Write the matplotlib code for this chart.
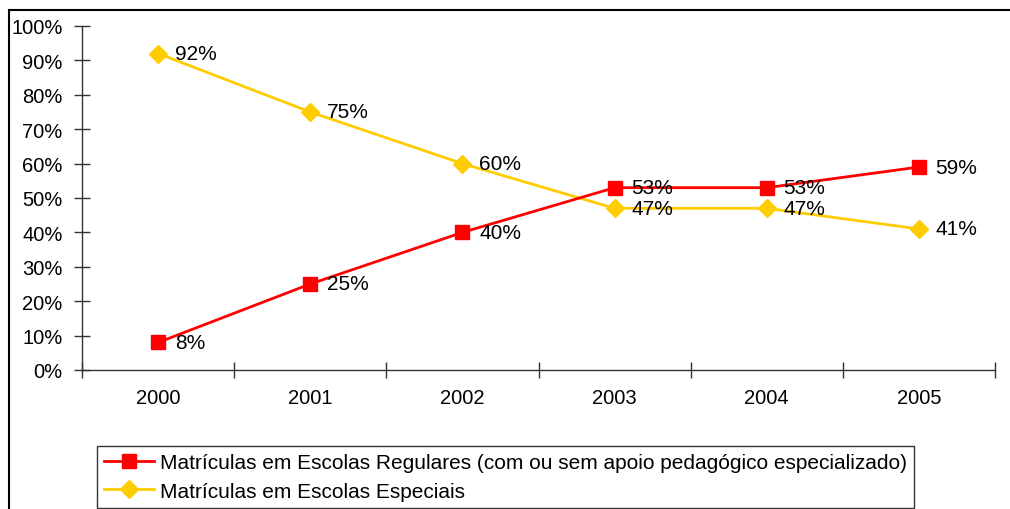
import matplotlib
matplotlib.use("Agg")
import matplotlib.pyplot as plt
from matplotlib.lines import Line2D

years = ["2000", "2001", "2002", "2003", "2004", "2005"]
regulares = [8, 25, 40, 53, 53, 59]
especiais = [92, 75, 60, 47, 47, 41]
yticks = [0, 10, 20, 30, 40, 50, 60, 70, 80, 90, 100]
label_reg = "Matrículas em Escolas Regulares (com ou sem apoio pedagógico especializado)"
label_esp = "Matrículas em Escolas Especiais"

plt.rcParams['font.family'] = ['Liberation Sans', 'DejaVu Sans']

W, H = 1010, 510
fig = plt.figure(figsize=(W/100, H/100), dpi=100)
ax = fig.add_axes([82/W, 1-371/H, (995-82)/W, (371-27)/H])

x = list(range(len(years)))
red = '#FF0000'
yel = '#FFCC00'
ax.plot(x, regulares, color=red, lw=2, marker='s', ms=10.5, label=label_reg, zorder=3)
ax.plot(x, especiais, color=yel, lw=2, marker='D', ms=9.5, label=label_esp, zorder=2)

for xi, v in zip(x, regulares):
    ax.annotate(f"{v}%", (xi, v), xytext=(12, 0), textcoords='offset points',
                va='center', ha='left', fontsize=15, color='black', zorder=5)
for xi, v in zip(x, especiais):
    ax.annotate(f"{v}%", (xi, v), xytext=(12, 0), textcoords='offset points',
                va='center', ha='left', fontsize=15, color='black', zorder=5)

ax.set_xlim(-0.5, len(years)-0.5)
ax.set_ylim(0, 100)
ax.set_yticks(yticks)
ax.set_yticklabels([f"{t}%" for t in yticks], fontsize=14.5)
ax.set_xticks(x)
ax.set_xticklabels(years, fontsize=14.5)
ax.set_xticks([i-0.5 for i in range(len(years)+1)], minor=True)
ax.tick_params(axis='x', which='major', length=0, pad=13)
ax.tick_params(axis='x', which='minor', direction='inout', length=12, width=1, color='#333333')
ax.tick_params(axis='y', which='major', direction='inout', length=12, width=1, color='#333333', pad=8)
for s in ['top', 'right']:
    ax.spines[s].set_visible(False)
for s in ['left', 'bottom']:
    ax.spines[s].set_color('#333333')
    ax.spines[s].set_linewidth(1)

# outer frame
fig.add_artist(Line2D([9/W, 9/W], [0, 1-11/H], color='black', lw=1.5, transform=fig.transFigure))
fig.add_artist(Line2D([9/W, 1.0], [1-11/H, 1-11/H], color='black', lw=1.5, transform=fig.transFigure))

leg = fig.legend(loc='lower left', bbox_to_anchor=(97/W, 1/H), fontsize=15,
                 frameon=True, fancybox=False, edgecolor='black', handlelength=2.4,
                 borderaxespad=0, borderpad=0.35, labelspacing=0.45, handletextpad=0.25)
leg.get_frame().set_linewidth(1)

fig.savefig("out.png", dpi=100)
